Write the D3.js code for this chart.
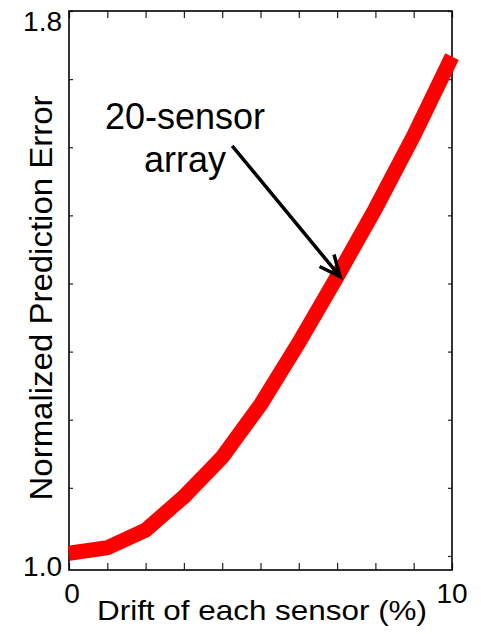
<!DOCTYPE html>
<html>
<head>
<meta charset="utf-8">
<script src="https://cdn.jsdelivr.net/npm/d3@7"></script>
<style>
  body { margin: 0; background: #fff; }
  text { font-family: Arial, "Liberation Sans", sans-serif; fill: #000; }
</style>
</head>
<body>
<div id="wrapper"></div>
<script>
// data
const drift = [0, 1, 2, 3, 4, 5, 6, 7, 8, 9, 10]
const predError = [1.004, 1.012, 1.038, 1.087, 1.145, 1.222, 1.313, 1.41, 1.51, 1.617, 1.733]
const xTicks = [0, 1, 2, 3, 4, 5, 6, 7, 8, 9, 10]
const yTicks = [1.0, 1.1, 1.2, 1.3, 1.4, 1.5, 1.6, 1.7, 1.8]
const xTickLabels = [0, 10]
const yTickLabels = [1.0, 1.8]
const annotationLines = ["20-sensor", "array"]

function drawChart() {
    const xAccessor = (d, i) => drift[i]
    const yAccessor = d => d

    let dimensions = {
      width: 481,
      height: 634,
      margin: {
        top: 11,
        right: 29,
        bottom: 64,
        left: 69,
      },
    }
    dimensions.boundedWidth = dimensions.width
      - dimensions.margin.left
      - dimensions.margin.right
    dimensions.boundedHeight = dimensions.height
      - dimensions.margin.top
      - dimensions.margin.bottom

    const wrapper = d3.select("#wrapper")
        .append("svg")
        .attr("width", dimensions.width)
        .attr("height", dimensions.height)

    const bounds = wrapper.append("g")
        .attr("transform", `translate(${dimensions.margin.left}, ${dimensions.margin.top})`)

    const xScaler = d3.scaleLinear()
        .domain([0, 10])
        .range([0, dimensions.boundedWidth])

    // the axis runs a little under 1.0 in the original
    const yScaler = d3.scaleLinear()
        .domain([0.9794, 1.8])
        .range([dimensions.boundedHeight, 0])

    // ticks on all four sides, pointing inward
    const fmt = d => ""
    bounds.append("g")
        .attr("transform", `translate(0, ${dimensions.boundedHeight})`)
        .call(d3.axisBottom(xScaler).tickValues(xTicks).tickSize(-7).tickFormat(fmt))
    bounds.append("g")
        .call(d3.axisTop(xScaler).tickValues(xTicks).tickSize(-7).tickFormat(fmt))
    bounds.append("g")
        .call(d3.axisLeft(yScaler).tickValues(yTicks).tickSize(-4).tickFormat(fmt))
    bounds.append("g")
        .attr("transform", `translate(${dimensions.boundedWidth}, 0)`)
        .call(d3.axisRight(yScaler).tickValues(yTicks).tickSize(-4).tickFormat(fmt))

    bounds.selectAll(".domain").remove()
    bounds.selectAll(".tick line").attr("stroke", "#222").attr("stroke-width", 1.2)

    bounds.append("rect")
        .attr("width", dimensions.boundedWidth)
        .attr("height", dimensions.boundedHeight)
        .attr("fill", "none")
        .attr("stroke", "#000")
        .attr("stroke-width", 1.6)

    // tick labels
    bounds.selectAll(".ylab")
        .data(yTickLabels)
        .enter()
        .append("text")
        .attr("x", -7)
        .attr("y", d => yScaler(d) + 20)
        .attr("text-anchor", "end")
        .attr("font-size", "28px")
        .text(d => d.toFixed(1))

    bounds.selectAll(".xlab")
        .data(xTickLabels)
        .enter()
        .append("text")
        .attr("x", d => xScaler(d) + (d === 0 ? 3 : 0))
        .attr("y", dimensions.boundedHeight + 33)
        .attr("text-anchor", "middle")
        .attr("font-size", "28px")
        .text(d => d)

    // axis titles
    wrapper.append("text")
        .attr("x", 262)
        .attr("y", 620)
        .attr("text-anchor", "middle")
        .attr("font-size", "28px")
        .attr("textLength", 330)
        .attr("lengthAdjust", "spacingAndGlyphs")
        .text("Drift of each sensor (%)")

    wrapper.append("text")
        .attr("transform", "translate(52, 298) rotate(-90)")
        .attr("text-anchor", "middle")
        .attr("font-size", "31px")
        .attr("textLength", 405)
        .attr("lengthAdjust", "spacingAndGlyphs")
        .text("Normalized Prediction Error")

    // the red curve
    const lineGenerator = d3.line()
        .x((d, i) => xScaler(xAccessor(d, i)))
        .y(d => yScaler(yAccessor(d)))

    bounds.append("path")
        .attr("d", lineGenerator(predError))
        .attr("fill", "none")
        .attr("stroke", "#ff0000")
        .attr("stroke-width", 15)
        .attr("stroke-linejoin", "miter")

    // annotation
    const tail = [4.26, 1.602]
    const tip = [7.08, 1.41]
    const tx = xScaler(tail[0]), ty = yScaler(tail[1])
    const hx = xScaler(tip[0]), hy = yScaler(tip[1])
    const ang = Math.atan2(hy - ty, hx - tx)
    const headLen = 23, spread = 0.42

    bounds.append("line")
        .attr("x1", tx).attr("y1", ty)
        .attr("x2", hx).attr("y2", hy)
        .attr("stroke", "#000")
        .attr("stroke-width", 3.5)

    bounds.append("path")
        .attr("d", `M${hx - headLen * Math.cos(ang - spread)},${hy - headLen * Math.sin(ang - spread)}`
            + `L${hx},${hy}`
            + `L${hx - headLen * Math.cos(ang + spread)},${hy - headLen * Math.sin(ang + spread)}`)
        .attr("fill", "none")
        .attr("stroke", "#000")
        .attr("stroke-width", 3.5)

    bounds.selectAll(".anno")
        .data(annotationLines)
        .enter()
        .append("text")
        .attr("x", xScaler(3.03))
        .attr("y", (d, i) => yScaler(1.627) + i * 43)
        .attr("text-anchor", "middle")
        .attr("font-size", "36px")
        .text(d => d)
}

drawChart()
</script>
</body>
</html>
